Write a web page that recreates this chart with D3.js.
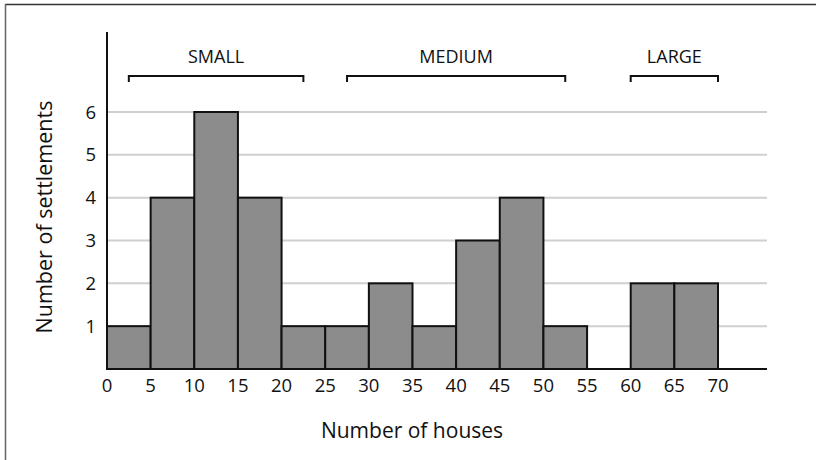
<!DOCTYPE html>
<html>
<head>
<meta charset="utf-8">
<script src="https://cdn.jsdelivr.net/npm/d3@7"></script>
<style>
  body { margin: 0; background: #fff; }
  svg text { font-family: "Open Sans", "Noto Sans", sans-serif; fill: #111; }
</style>
</head>
<body>
<div id="chart"></div>
<script>
// histogram bins (number of houses) and counts
var binStarts = [0, 5, 10, 15, 20, 25, 30, 35, 40, 45, 50, 55, 60, 65]
var counts = [1, 4, 6, 4, 1, 1, 2, 1, 3, 4, 1, 0, 2, 2]
var xTicks = [0, 5, 10, 15, 20, 25, 30, 35, 40, 45, 50, 55, 60, 65, 70]
var yTicks = [1, 2, 3, 4, 5, 6]
var groupNames = ["SMALL", "MEDIUM", "LARGE"]
var groupFrom = [2.5, 27.5, 60]
var groupTo = [22.5, 52.5, 70]

var width = 816, height = 460
var svg = d3.select("#chart").append("svg")
    .attr("width", width)
    .attr("height", height)

// frame (top and left only)
svg.append("line").attr("x1", 5).attr("x2", width).attr("y1", 4.5).attr("y2", 4.5)
    .attr("stroke", "#333").attr("stroke-width", 1.5)
svg.append("line").attr("x1", 5.5).attr("x2", 5.5).attr("y1", 4).attr("y2", height)
    .attr("stroke", "#666").attr("stroke-width", 1.5)

var x = d3.scaleLinear().domain([0, 70]).range([107, 718])
var y = d3.scaleLinear().domain([0, 6]).range([369, 112])
var xEnd = 767, yTop = 32

// grid lines
svg.append("g").selectAll("line")
    .data(yTicks)
    .enter().append("line")
    .attr("x1", x(0)).attr("x2", xEnd)
    .attr("y1", function(d){ return y(d) }).attr("y2", function(d){ return y(d) })
    .attr("stroke", "#cfcfcf").attr("stroke-width", 2)

// bars
var binW = 5
svg.append("g").selectAll("rect")
    .data(binStarts.filter(function(d, i){ return counts[i] > 0 }))
    .enter().append("rect")
    .attr("x", function(d){ return x(d) })
    .attr("width", function(d){ return x(d + binW) - x(d) })
    .attr("y", function(d){ return y(counts[binStarts.indexOf(d)]) })
    .attr("height", function(d){ return y(0) - y(counts[binStarts.indexOf(d)]) })
    .attr("fill", "#8c8c8c")
    .attr("stroke", "#111")
    .attr("stroke-width", 2)

// axes lines
svg.append("line").attr("x1", x(0)).attr("x2", xEnd).attr("y1", y(0)).attr("y2", y(0))
    .attr("stroke", "#111").attr("stroke-width", 2)
svg.append("line").attr("x1", x(0)).attr("x2", x(0)).attr("y1", yTop).attr("y2", y(0))
    .attr("stroke", "#111").attr("stroke-width", 2)

// tick labels
svg.append("g").selectAll("text")
    .data(xTicks)
    .enter().append("text")
    .attr("x", function(d){ return x(d) })
    .attr("y", 392)
    .attr("text-anchor", "middle")
    .style("font-size", "18.5px")
    .text(function(d){ return d })

svg.append("g").selectAll("text")
    .data(yTicks)
    .enter().append("text")
    .attr("x", 96)
    .attr("y", function(d){ return y(d) + 6.5 })
    .attr("text-anchor", "end")
    .style("font-size", "18.5px")
    .text(function(d){ return d })

// axis titles
svg.append("text")
    .attr("x", 412).attr("y", 438)
    .attr("text-anchor", "middle")
    .style("font-size", "21px")
    .text("Number of houses")

svg.append("text")
    .attr("transform", "translate(52,217) rotate(-90)")
    .attr("text-anchor", "middle")
    .style("font-size", "21.5px")
    .text("Number of settlements")

// group brackets
var groups = svg.append("g")
groupNames.forEach(function(name, i){
    var x1 = x(groupFrom[i]), x2 = x(groupTo[i]), by = 76
    groups.append("path")
        .attr("d", "M" + x1 + "," + (by + 6) + "V" + by + "H" + x2 + "V" + (by + 6))
        .attr("fill", "none")
        .attr("stroke", "#111")
        .attr("stroke-width", 2)
    groups.append("text")
        .attr("x", (x1 + x2) / 2)
        .attr("y", 63)
        .attr("text-anchor", "middle")
        .style("font-size", "18px")
        .text(name)
})
</script>
</body>
</html>
